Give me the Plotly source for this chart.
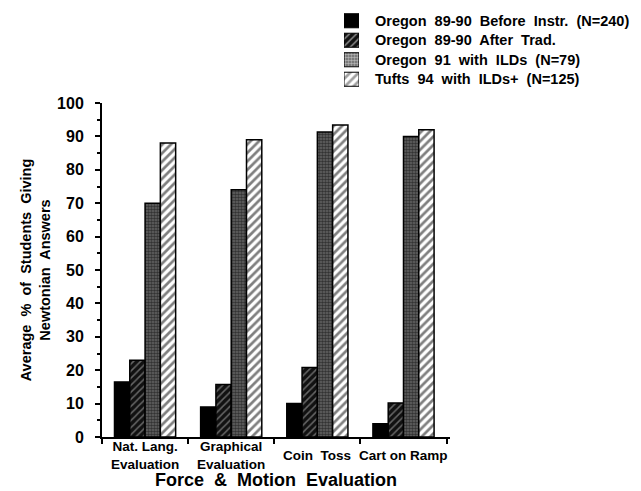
import plotly.graph_objects as go

NB = "\u00a0 "
categories = ["Nat. Lang.<br>Evaluation", "Graphical<br>Evaluation", "Coin" + NB + "Toss", "Cart on Ramp"]
series_names = [
    "Oregon\u00a0 89-90\u00a0 Before\u00a0 Instr.\u00a0 (N=240)",
    "Oregon\u00a0 89-90\u00a0 After\u00a0 Trad.",
    "Oregon\u00a0 91\u00a0 with\u00a0 ILDs\u00a0 (N=79)",
    "Tufts\u00a0 94\u00a0 with\u00a0 ILDs+\u00a0 (N=125)",
]
before_instr = [16.5, 9, 10, 4]
after_trad = [23, 15.7, 20.8, 10.2]
oregon_ilds = [70, 74, 91.3, 90]
tufts_ilds = [88, 89, 93.4, 92]
legend_swatch = [1, 1, 1, 1]
y_ticks = [0, 10, 20, 30, 40, 50, 60, 70, 80, 90, 100]

FONT = "Liberation Sans, Arial, sans-serif"

patterns = [
    dict(shape="", bgcolor="black", fgcolor="black", size=6, solidity=0.3),
    dict(shape="/", bgcolor="#111111", fgcolor="#bbbbbb", size=5, solidity=0.3),
    dict(shape=".", bgcolor="#666666", fgcolor="#000000", size=3, solidity=0.55),
    dict(shape="/", bgcolor="white", fgcolor="black", size=6, solidity=0.45),
]
values = [before_instr, after_trad, oregon_ilds, tufts_ilds]

# page has an 8px body margin; figure coordinates are page - 8
W, H = 633, 483
PL, PR, PT, PB = 94, 442, 95, 429   # main plot box in figure px
TOP = 0                              # top margin of the whole plot area

fig = go.Figure()
for name, vals, pat in zip(series_names, values, patterns):
    fig.add_trace(go.Bar(
        x=categories, y=vals, name=name, showlegend=False,
        marker=dict(color=pat["bgcolor"], pattern=pat,
                    line=dict(color="black", width=1.5)),
    ))

# legend drawn as patterned swatches on a small side axis
fig.add_trace(go.Bar(
    x=legend_swatch, y=series_names, orientation="h", xaxis="x2", yaxis="y2",
    width=0.72, showlegend=False, hoverinfo="skip",
    marker=dict(
        color=[p["bgcolor"] for p in patterns],
        pattern=dict(shape=[p["shape"] for p in patterns],
                     bgcolor=[p["bgcolor"] for p in patterns],
                     fgcolor=[p["fgcolor"] for p in patterns],
                     size=[p["size"] for p in patterns],
                     solidity=[p["solidity"] for p in patterns]),
        line=dict(color="black", width=1),
    ),
))

for cat in categories:
    fig.add_annotation(x=cat, y=0, xref="x", yref="paper", text=cat,
                       showarrow=False, yanchor="middle", yshift=-18,
                       font=dict(family=FONT, size=13.5, color="black", weight="bold"))

fig.add_annotation(x=0.5, y=0, xref="paper", yref="paper",
                   text="Force\u00a0 &\u00a0 Motion\u00a0 Evaluation",
                   showarrow=False, yanchor="middle", yshift=-43,
                   font=dict(family=FONT, size=18, color="black", weight="bold"))

plot_h = PB - TOP
fig.update_layout(
    width=W, height=H,
    margin=dict(l=PL, r=W - PR, t=TOP, b=H - PB, autoexpand=False),
    paper_bgcolor="white", plot_bgcolor="white",
    barmode="group", bargap=0.29, bargroupgap=0,
    showlegend=False,
    font=dict(family=FONT, color="black"),
    xaxis=dict(
        domain=[0, 1], anchor="y",
        showline=True, linecolor="black", linewidth=2,
        ticks="outside", tickson="boundaries", ticklen=5, tickwidth=2, tickcolor="black",
        showticklabels=False, showgrid=False, automargin=False,
    ),
    yaxis=dict(
        domain=[0, (PB - PT) / plot_h], anchor="x",
        range=[0, 100], tickvals=y_ticks, ticktext=[str(v) for v in y_ticks],
        showline=True, linecolor="black", linewidth=2,
        ticks="outside", ticklen=5, tickwidth=2, tickcolor="black",
        minor=dict(dtick=5, ticks="outside", ticklen=3, tickwidth=2, tickcolor="black"),
        showgrid=False, zeroline=False, automargin=False,
        tickfont=dict(family=FONT, size=16, color="black", weight="bold"),
        ticklabelstandoff=8,
        title=dict(text="Average\u00a0 %\u00a0 of\u00a0 Students\u00a0 Giving<br>Newtonian\u00a0 Answers",
                   font=dict(family=FONT, size=14.5, color="black", weight="bold"), standoff=3),
    ),
    xaxis2=dict(domain=[(336 - PL) / (PR - PL), (351 - PL) / (PR - PL)], anchor="y2",
                range=[0, 1], visible=False, fixedrange=True),
    yaxis2=dict(domain=[(PB - 81) / plot_h, (PB - 3) / plot_h], anchor="x2",
                type="category", categoryorder="array", categoryarray=series_names,
                range=[3.5, -0.5], side="right", showline=False, showgrid=False,
                zeroline=False, ticks="", automargin=False, ticklabelstandoff=15,
                tickfont=dict(family=FONT, size=14.5, color="black", weight="bold")),
)

fig.write_html("out.html")
